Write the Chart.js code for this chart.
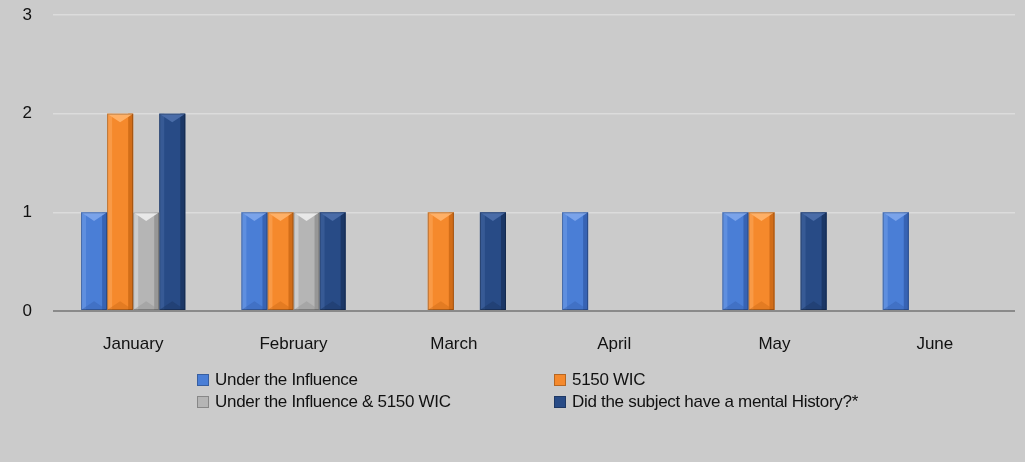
<!DOCTYPE html>
<html>
<head>
<meta charset="utf-8">
<script src="https://cdn.jsdelivr.net/npm/chart.js@4"></script>
<style>
  body { margin: 0; background: #cbcbcb; }
  #wrap { position: relative; width: 1025px; height: 462px; background: #cbcbcb; }
  #legend { position: absolute; left: 197px; top: 369px; width: 800px;
    font-family: "Liberation Sans", Arial, sans-serif; font-size: 17px; color: #111;
    letter-spacing: -0.3px; }
  .item { position: absolute; white-space: nowrap; line-height: 22px; }
  .box { display: inline-block; width: 12px; height: 12px; margin-right: 6px;
    vertical-align: -1px; box-shadow: inset 0 0 0 1px rgba(0,0,0,0.25); }
</style>
</head>
<body>
<div id="wrap">
  <canvas id="chart" width="1025" height="462"></canvas>
  <div id="legend"></div>
</div>
<script>
// data
const bulan = ["January", "February", "March", "April", "May", "June"];
const namaSeri = [
  "Under the Influence",
  "5150 WIC",
  "Under the Influence & 5150 WIC",
  "Did the subject have a mental History?*",
];
const underInfluence = [1, 1, 0, 1, 1, 1];
const wic5150 = [2, 1, 1, 0, 1, 0];
const underAndWic = [1, 1, 0, 0, 0, 0];
const mentalHistory = [2, 1, 1, 0, 1, 0];
const yTicks = [0, 1, 2, 3];

const warna = ["#4a7ed6", "#f5892c", "#b5b5b5", "#284b86"];
const warnaGelap = ["#3763b4", "#d26d18", "#979797", "#1b3766"];
const warnaTerang = ["#7aa3ea", "#ffb066", "#e8e8e8", "#4a6ca8"];

// efek bevel ala excel
const bevelPlugin = {
  id: "bevel",
  afterDatasetsDraw(chart) {
    const ctx = chart.ctx;
    chart.data.datasets.forEach((ds, i) => {
      const meta = chart.getDatasetMeta(i);
      meta.data.forEach((bar, j) => {
        if (!ds.data[j]) return;
        const w = bar.width;
        const x0 = bar.x - w / 2;
        const x1 = bar.x + w / 2;
        const top = bar.y;
        const bot = bar.base;
        const e = 5;
        const t = w / 3;
        ctx.save();
        // sisi kanan gelap
        ctx.fillStyle = warnaGelap[i];
        ctx.fillRect(x1 - e, top, e, bot - top);
        // sisi kiri terang
        ctx.globalAlpha = 0.45;
        ctx.fillStyle = warnaTerang[i];
        ctx.fillRect(x0, top, e, bot - top);
        ctx.globalAlpha = 1;
        // segitiga atas
        ctx.fillStyle = warnaTerang[i];
        ctx.beginPath();
        ctx.moveTo(x0, top);
        ctx.lineTo(x1, top);
        ctx.lineTo(bar.x, top + t);
        ctx.closePath();
        ctx.fill();
        // segitiga bawah
        ctx.fillStyle = warnaGelap[i];
        ctx.globalAlpha = 0.5;
        ctx.beginPath();
        ctx.moveTo(x0, bot);
        ctx.lineTo(x1, bot);
        ctx.lineTo(bar.x, bot - t);
        ctx.closePath();
        ctx.fill();
        ctx.restore();
        ctx.save();
        ctx.strokeStyle = "rgba(0,0,0,0.25)";
        ctx.lineWidth = 1;
        ctx.strokeRect(x0 + 0.5, top + 0.5, w - 1, bot - top - 1);
        ctx.restore();
      });
    });
  },
};

const semuaData = [underInfluence, wic5150, underAndWic, mentalHistory];

const ctx = document.getElementById("chart").getContext("2d");
const chart = new Chart(ctx, {
  type: "bar",
  data: {
    labels: bulan,
    datasets: semuaData.map((d, i) => ({
      label: namaSeri[i],
      data: d,
      backgroundColor: warna[i],
      borderWidth: 0,
      barPercentage: 1,
      categoryPercentage: 0.65,
    })),
  },
  options: {
    responsive: false,
    animation: false,
    layout: { padding: { top: 15, left: 8, right: 10, bottom: 106 } },
    plugins: { legend: { display: false }, tooltip: { enabled: false } },
    scales: {
      x: {
        grid: { display: false },
        border: { display: false },
        ticks: {
          color: "#111",
          font: { family: "Liberation Sans", size: 17 },
          padding: 15,
        },
        afterFit(scale) {
          scale.height = 45;
          scale.paddingLeft = 0;
          scale.paddingRight = 0;
        },
      },
      y: {
        min: 0,
        max: 3,
        afterBuildTicks(scale) {
          scale.ticks = yTicks.map((v) => ({ value: v }));
        },
        grid: {
          color: (c) => (c.tick && c.tick.value === 0 ? "#8a8a8a" : "#dcdcdc"),
          lineWidth: (c) => (c.tick && c.tick.value === 0 ? 2 : 1.5),
          drawTicks: false,
        },
        border: { display: false },
        ticks: {
          color: "#111",
          font: { family: "Liberation Sans", size: 17 },
          padding: 21,
        },
        afterFit(scale) {
          scale.width = 45;
          scale.paddingTop = 0;
          scale.paddingBottom = 0;
        },
      },
    },
  },
  plugins: [bevelPlugin],
});

// legend manual, dua kolom
const legendEl = document.getElementById("legend");
namaSeri.forEach((nama, i) => {
  const el = document.createElement("div");
  el.className = "item";
  el.style.left = (i % 2) * 357 + "px";
  el.style.top = Math.floor(i / 2) * 22 + "px";
  el.innerHTML = `<span class="box" style="background:${warna[i]}"></span>`;
  el.appendChild(document.createTextNode(nama));
  legendEl.appendChild(el);
});
</script>
</body>
</html>
